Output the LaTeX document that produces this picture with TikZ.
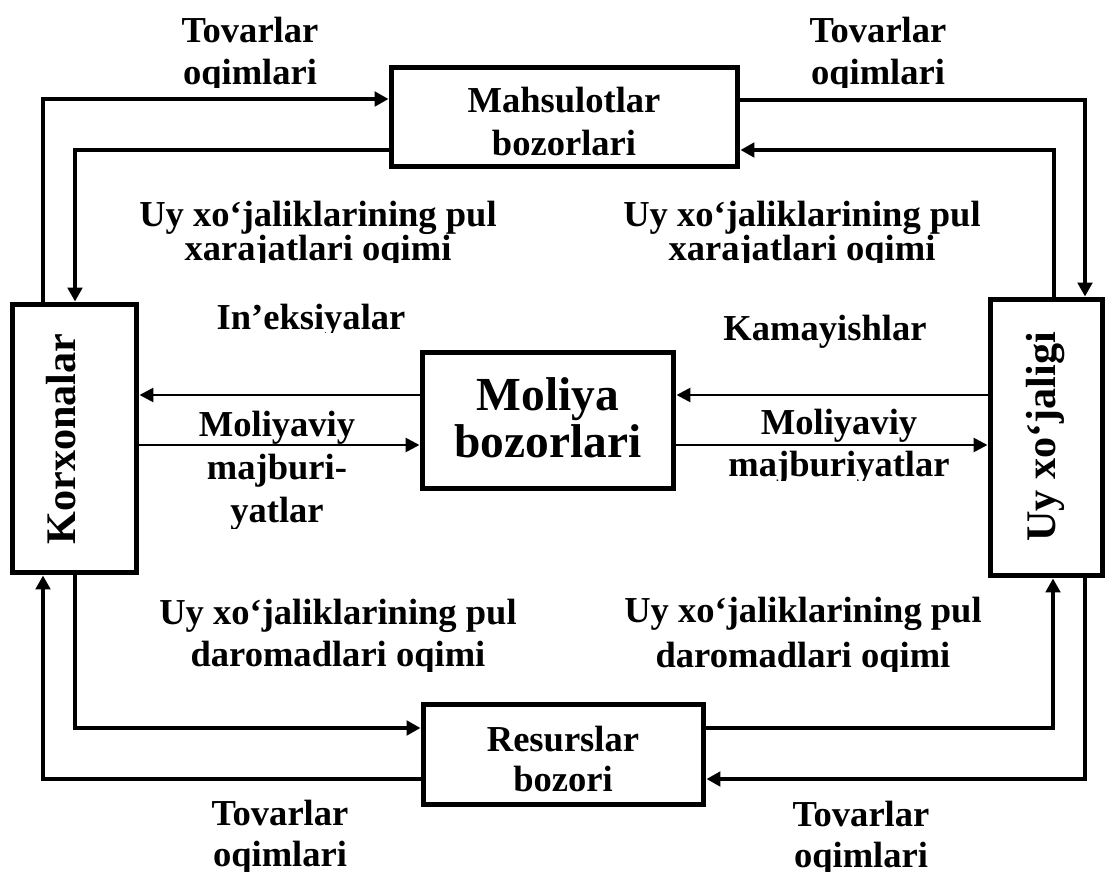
\documentclass[tikz,border=0pt]{standalone}
\usepackage{fontspec}
\setmainfont{Liberation Serif}
\usetikzlibrary{arrows.meta}
% centred stack of lines whose baseline is that of the first line
\newcommand\stk[2]{\vtop{\baselineskip=#1\lineskiplimit=-100pt\halign{\hfil##\hfil\cr#2\crcr}}}

\begin{document}
\begin{tikzpicture}[x=0.02cm,y=-0.02cm,
  box/.style={draw,line width=0.1cm,inner sep=0pt},
  lbl/.style={font=\bfseries\fontsize{20.8pt}{24pt}\selectfont,inner sep=0pt,anchor=base},
  big/.style={font=\bfseries\fontsize{24pt}{28pt}\selectfont},
  flow/.style={line width=0.08cm,-{Triangle[length=0.28cm,width=0.29cm]}},
  fin/.style={line width=0.055cm,-{Triangle[length=0.28cm,width=0.28cm]}}]

\path[use as bounding box,fill=white] (0,0) rectangle (1107,875);

% markets and sectors
\node[box,minimum width=6.94cm,minimum height=2cm]    (mahs) at (564.5,117) {};
\node[box,minimum width=2.5cm,minimum height=5.38cm]  (korx) at (74.5,438.5) {};
\node[box,minimum width=2.26cm,minimum height=5.54cm] (uy)   at (1046.5,437.5) {};
\node[box,minimum width=5.04cm,minimum height=2.74cm] (mol)  at (548,420.5) {};
\node[box,minimum width=5.62cm,minimum height=2.02cm] (res)  at (563.5,754.5) {};

\node[lbl] (mahst) at (564,113) {\stk{0.86cm}{Mahsulotlar\cr bozorlari}};
\node[lbl,font=\bfseries\fontsize{27pt}{30pt}\selectfont] (molt) at (548,410) {\stk{0.96cm}{Moliya\cr bozorlari}};
\node[lbl] (rest) at (563,751) {\stk{0.82cm}{Resurslar\cr bozori}};
\node[lbl,big,rotate=90] (korxt) at (75,439) {Korxonalar};
\node[lbl,big,rotate=90] (uyt) at (1055,437) {Uy xo‘jaligi};

% routing corners
\coordinate (tlo) at (43,99);
\coordinate (tli) at (75,150);
\coordinate (tro) at (1085,100);
\coordinate (tri) at (1054,150);
\coordinate (mup) at (0,395);
\coordinate (mdn) at (0,445);
\coordinate (blo) at (43,779);
\coordinate (bli) at (75,728);
\coordinate (bri) at (1053,728);
\coordinate (bro) at (1085,779);

% circular flows
\draw[flow] (korx.north -| tlo) |- (mahs.west |- tlo);
\draw[flow] (mahs.west |- tli) -| (korx.north -| tli);
\draw[flow] (mahs.east |- tro) -| (uy.north -| tro);
\draw[flow] (uy.north -| tri) |- (mahs.east |- tri);
\draw[flow] (res.west |- blo) -| (korx.south -| blo);
\draw[flow] (korx.south -| bli) |- (res.west |- bli);
\draw[flow] (res.east |- bri) -| (uy.south -| bri);
\draw[flow] (uy.south -| bro) |- (res.east |- bro);

% financial market flows
\draw[fin] (mol.west |- mup) -- (korx.east |- mup);
\draw[fin] (korx.east |- mdn) -- (mol.west |- mdn);
\draw[fin] (uy.west |- mup) -- (mol.east |- mup);
\draw[fin] (mol.east |- mdn) -- (uy.west |- mdn);

% flow labels
\begin{scope}
  \clip (0,0) rectangle (1107,88);
  \node[lbl] (tovtl) at (250,43) {\stk{0.84cm}{Tovarlar\cr oqimlari}};
  \node[lbl] (tovtr) at (878,43) {\stk{0.84cm}{Tovarlar\cr oqimlari}};
\end{scope}
\begin{scope}
  \clip (0,170) rectangle (1107,263);
  \node[lbl] (xarl) at (318,227) {\stk{0.68cm}{Uy xo‘jaliklarining pul\cr xarajatlari oqimi}};
  \node[lbl] (xarr) at (802,227) {\stk{0.68cm}{Uy xo‘jaliklarining pul\cr xarajatlari oqimi}};
\end{scope}
\begin{scope}
  \clip (0,270) rectangle (1107,333);
  \node[lbl] (inek) at (311,330) {In’eksiyalar};
\end{scope}
\node[lbl] (kam) at (825,340) {Kamayishlar};
\begin{scope}
  \clip (0,400) rectangle (1107,528);
  \node[lbl] (mml) at (277,437) {\stk{0.86cm}{Moliyaviy\cr majburi-\cr yatlar}};
\end{scope}
\begin{scope}
  \clip (0,400) rectangle (1107,480);
  \node[lbl] (mmr) at (839,435) {\stk{0.84cm}{Moliyaviy\cr majburiyatlar}};
\end{scope}
\begin{scope}
  \clip (0,580) rectangle (1107,671);
  \node[lbl] (darl) at (338,624) {\stk{0.86cm}{Uy xo‘jaliklarining pul\cr daromadlari oqimi}};
  \node[lbl] (darr) at (803,622) {\stk{0.92cm}{Uy xo‘jaliklarining pul\cr daromadlari oqimi}};
\end{scope}
\begin{scope}
  \clip (0,790) rectangle (1107,871);
  \node[lbl] (tovbl) at (280,825) {\stk{0.84cm}{Tovarlar\cr oqimlari}};
  \node[lbl] (tovbr) at (861,826) {\stk{0.84cm}{Tovarlar\cr oqimlari}};
\end{scope}
\end{tikzpicture}
\end{document}
